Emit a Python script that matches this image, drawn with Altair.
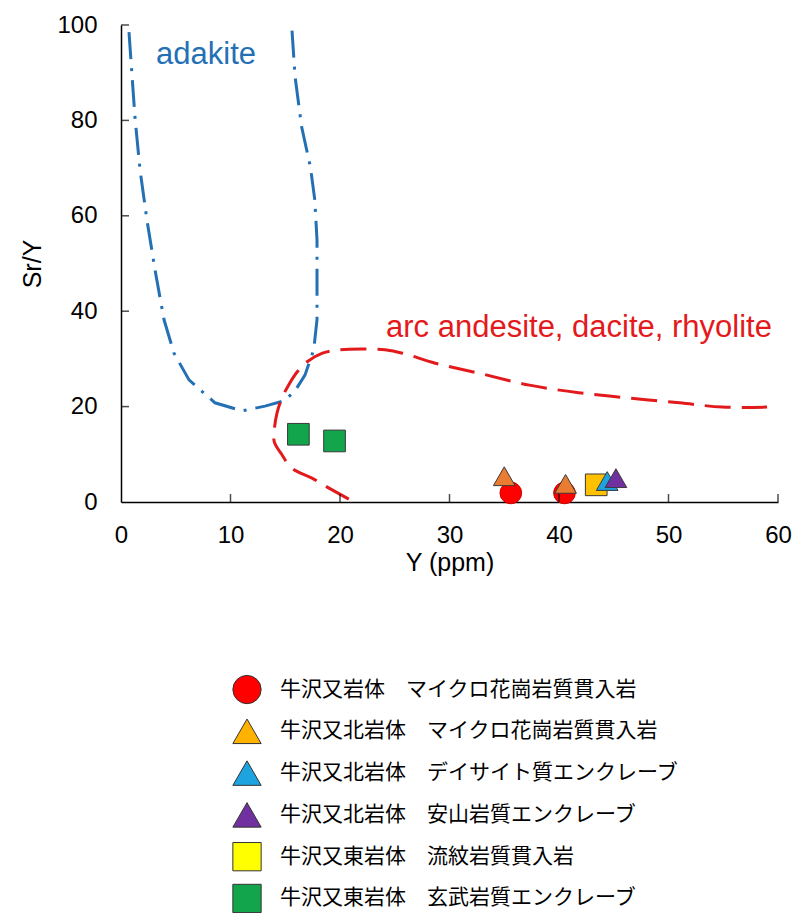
import altair as alt
import pandas as pd

# ---- sample groups (legend order) ----
groups = [
    "牛沢又岩体\u3000マイクロ花崗岩質貫入岩",
    "牛沢又北岩体\u3000マイクロ花崗岩質貫入岩",
    "牛沢又北岩体\u3000デイサイト質エンクレーブ",
    "牛沢又北岩体\u3000安山岩質エンクレーブ",
    "牛沢又東岩体\u3000流紋岩質貫入岩",
    "牛沢又東岩体\u3000玄武岩質エンクレーブ",
]
shapes = ["circle", "triangle-up", "triangle-up", "triangle-up", "square", "square"]
plot_fill = ["#FF0000", "#E97C30", "#1CA3E0", "#7030A0", "#FFC000", "#12A54B"]
plot_stroke = ["#D00000", "#3A3A3A", "#3A3A3A", "#3A3A3A", "#3A3A3A", "#3A3A3A"]
legend_fill = ["#FF0000", "#FFB300", "#1CA3E0", "#7030A0", "#FFFF00", "#12A54B"]

# ---- analyses (listed in drawing order) ----
sample_group = [0, 0, 1, 1, 4, 2, 3, 5, 5]
y_ppm = [35.6, 40.5, 35.0, 40.6, 43.4, 44.4, 45.2, 16.2, 19.5]
sr_y = [1.9, 1.9, 5.4, 3.8, 3.6, 4.4, 5.0, 14.2, 12.8]

# ---- adakite field boundary ----
adakite_y = [0.73, 1.28, 1.74, 2.37, 3.11, 3.93, 4.84, 6.21, 8.58, 11.05, 13.15,
             14.89, 15.89, 16.8, 17.6, 17.9, 17.9, 17.7, 17.3, 16.5, 15.9, 15.6]
adakite_sr = [98.5, 80.5, 69.6, 59.1, 48.6, 38.2, 31.2, 25.6, 20.8, 19.1, 20.1,
              21.2, 23.3, 26.6, 31.9, 38.2, 54.9, 63.3, 70.2, 78.6, 89.1, 99.4]

# ---- arc andesite / dacite / rhyolite field boundary ----
arc_y = [20.8, 19.0, 17.44, 15.6, 14.7, 14.0, 14.0, 14.25, 14.7, 15.3, 16.1, 17.0,
         18.4, 19.9, 22.0, 24.1, 25.7, 28.7, 32.7, 37.3, 41.8, 46.4, 51.0, 54.9, 59.0]
arc_sr = [0.6, 2.9, 5.0, 7.1, 9.9, 12.6, 15.1, 18.7, 21.8, 24.5, 27.3, 29.4,
          31.2, 31.9, 32.1, 31.9, 31.2, 29.1, 27.0, 24.5, 22.9, 21.8, 20.8, 19.9, 19.9]

# ---- field names ----
field_names = ["adakite", "arc andesite, dacite, rhyolite"]
field_name_y = [3.2, 24.2]
field_name_sr = [91.8, 34.6]
field_colors = ["#2470B5", "#E31A1C"]

x_ticks = [0, 10, 20, 30, 40, 50, 60]
y_ticks = [0, 20, 40, 60, 80, 100]

pts = pd.DataFrame({
    "Y": y_ppm,
    "SrY": sr_y,
    "group": [groups[i] for i in sample_group],
    "order": list(range(len(y_ppm))),
})
ada = pd.DataFrame({"Y": adakite_y, "SrY": adakite_sr, "i": range(len(adakite_y))})
arc = pd.DataFrame({"Y": arc_y, "SrY": arc_sr, "i": range(len(arc_y))})
names = pd.DataFrame({"name": field_names, "Y": field_name_y, "SrY": field_name_sr})
xt = pd.DataFrame({"v": x_ticks[1:]})
yt = pd.DataFrame({"v": y_ticks[1:]})

xscale = alt.Scale(domain=[0, 60], nice=False, zero=False)
yscale = alt.Scale(domain=[0, 100], nice=False, zero=False)

X = alt.X("Y:Q", scale=xscale,
          axis=alt.Axis(values=x_ticks, title="Y (ppm)", tickSize=0, labelPadding=21,
                        titlePadding=3, labelFlush=False, labelOverlap=False, grid=False))
Yc = alt.Y("SrY:Q", scale=yscale,
           axis=alt.Axis(values=y_ticks, title="Sr/Y", tickSize=0, labelPadding=24,
                         titlePadding=11, labelOverlap=False, grid=False))

ada_line = alt.Chart(ada).mark_line(
    color="#2470B5", strokeWidth=3, strokeDash=[27, 9, 3, 9], strokeCap="butt"
).encode(x=X, y=Yc, order="i:Q")

arc_line = alt.Chart(arc).mark_line(
    color="#E31A1C", strokeWidth=3, strokeDash=[26, 11], strokeCap="butt",
    interpolate="catmull-rom"
).encode(x=X, y=Yc, order="i:Q")

labels = alt.Chart(names).mark_text(
    align="left", baseline="alphabetic", fontSize=31, font="Liberation Sans"
).encode(
    x=X, y=Yc, text="name:N",
    color=alt.Color("name:N", scale=alt.Scale(domain=field_names, range=field_colors),
                    legend=None),
)

points = alt.Chart(pts).mark_point(
    filled=True, size=470, strokeWidth=1, opacity=1
).encode(
    x=X, y=Yc,
    fill=alt.Fill("group:N", scale=alt.Scale(domain=groups, range=plot_fill), legend=None),
    stroke=alt.Stroke("group:N", scale=alt.Scale(domain=groups, range=plot_stroke), legend=None),
    shape=alt.Shape("group:N", scale=alt.Scale(domain=groups, range=shapes), legend=None),
    order="order:Q",
)

# inward-pointing tick marks
x_tick_marks = alt.Chart(xt).mark_tick(
    orient="vertical", size=8, thickness=1.5, color="black", yOffset=-4
).encode(x=alt.X("v:Q", scale=xscale), y=alt.datum(0))
y_tick_marks = alt.Chart(yt).mark_tick(
    orient="horizontal", size=8, thickness=1.5, color="black", xOffset=4
).encode(y=alt.Y("v:Q", scale=yscale), x=alt.datum(0))

main = alt.layer(
    ada_line, arc_line, labels, points, x_tick_marks, y_tick_marks
).resolve_scale(color="independent").properties(width=657, height=477)

# ---- legend panel ----
leg = pd.DataFrame({"group": groups})
ly = alt.Y("group:N", sort=groups, axis=None, scale=alt.Scale(padding=0.3))
leg_sym = alt.Chart(leg).mark_point(
    filled=True, size=800, stroke="#333333", strokeWidth=1, opacity=1
).encode(
    x=alt.value(126), y=ly,
    fill=alt.Fill("group:N", scale=alt.Scale(domain=groups, range=legend_fill), legend=None),
    shape=alt.Shape("group:N", scale=alt.Scale(domain=groups, range=shapes), legend=None),
)
leg_txt = alt.Chart(leg).mark_text(
    align="left", baseline="middle", fontSize=21, font="Noto Sans CJK JP", color="black"
).encode(x=alt.value(159), y=ly, text="group:N")
legend_panel = alt.layer(leg_sym, leg_txt).properties(width=560, height=234)

chart = alt.vconcat(main, legend_panel, spacing=98).resolve_scale(
    fill="independent", shape="independent", stroke="independent"
).properties(
    padding={"left": 20, "top": 13, "right": 2, "bottom": 0}
).configure_view(stroke=None).configure_axis(
    domainColor="black", domainWidth=1.5,
    labelFont="Liberation Sans", labelFontSize=24, labelColor="black",
    titleFont="Liberation Sans", titleFontSize=25, titleFontWeight="normal", titleColor="black",
)

chart.save("out.html", embed_options={"renderer": "svg", "actions": False})
